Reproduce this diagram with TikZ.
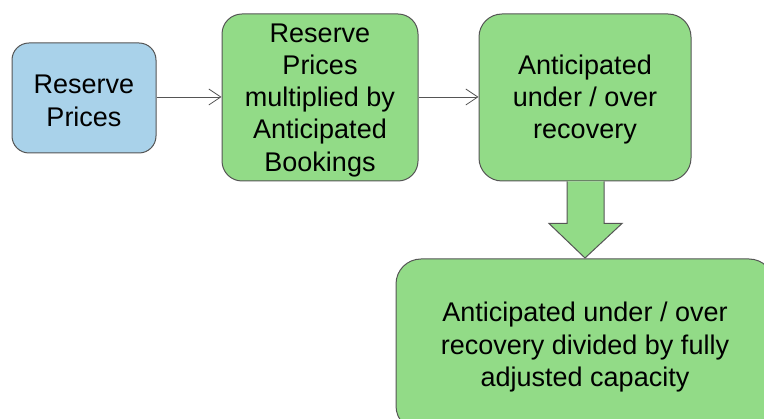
\documentclass[tikz,border=0pt]{standalone}
\usepackage{fontspec}
\setmainfont{Liberation Sans}
\usetikzlibrary{arrows.meta,calc}
\definecolor{boxblue}{RGB}{169,210,234}
\definecolor{boxgreen}{RGB}{146,219,135}
\definecolor{edgegray}{RGB}{85,85,85}
\newcommand\tstrut{\rule{0pt}{24pt}}
\begin{document}
\begin{tikzpicture}[x=1pt,y=-1pt,
  box/.style={draw=edgegray,line width=1pt,rounded corners=#1,align=center,inner sep=0pt,
    font=\fontsize{27}{32.3}\selectfont},
  box/.default=20pt,
  link/.style={draw=edgegray,line width=0.8pt,-{Straight Barb[length=12pt,width=16pt,line width=0.8pt]}}]
\useasboundingbox (0,0) rectangle (764,419);
\clip (0,0) rectangle (764,419);
\node[box=17pt,fill=boxblue,minimum width=144pt,minimum height=110pt] (rp) at (84,98) {\tstrut Reserve\\Prices};
\node[box=20pt,fill=boxgreen,minimum width=196pt,minimum height=167pt] (mb) at (320,97.5) {\tstrut Reserve\\Prices\\multiplied by\\Anticipated\\Bookings};
\node[box=23pt,fill=boxgreen,minimum width=212pt,minimum height=167pt] (ar) at (585,97.5) {\tstrut Anticipated\\under / over\\recovery};
\node[box=25pt,fill=boxgreen,minimum width=378pt,minimum height=172pt] (dc) at (585,345) {\tstrut Anticipated under / over\\recovery divided by fully\\adjusted capacity};
\draw[link] (rp.east |- 0,97) -- (mb.west |- 0,97);
\draw[link] (mb.east |- 0,97) -- (ar.west |- 0,97);
\draw[draw=edgegray,line width=1pt,fill=boxgreen,line join=miter]
  ($(ar.south)+(-18,0)$) -- ($(ar.south)+(-18,42)$) -- ($(ar.south)+(-36,42)$)
  -- ($(dc.north)+(0,-0.5)$) -- ($(ar.south)+(37,42)$) -- ($(ar.south)+(19,42)$)
  -- ($(ar.south)+(19,0)$);
\end{tikzpicture}
\end{document}
